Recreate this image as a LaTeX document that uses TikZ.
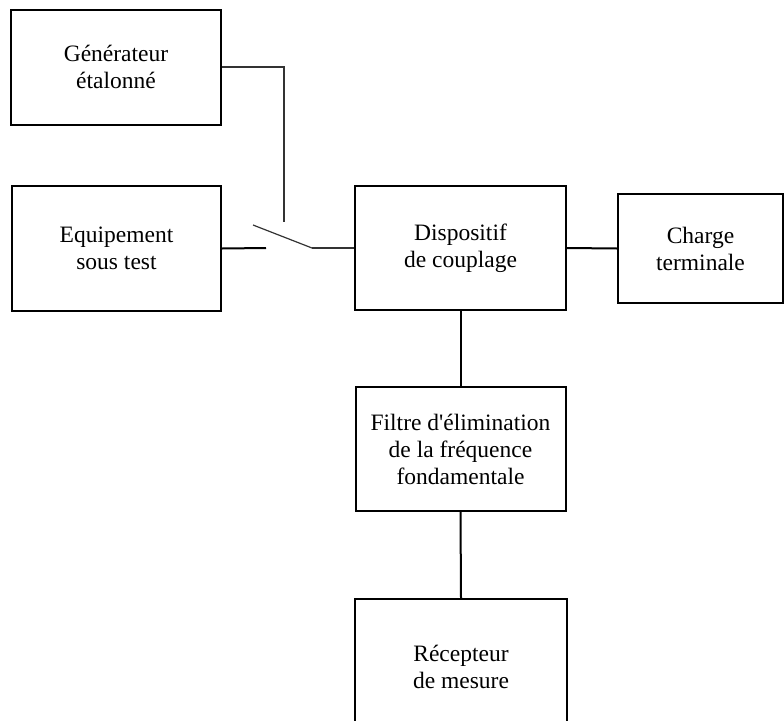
\documentclass[tikz,border=0pt]{standalone}
\usepackage{fontspec}
\setmainfont{Liberation Serif}[Ligatures=TeXOff]
\begin{document}
\begin{tikzpicture}[x=1pt,y=-1pt,
  blk/.style={draw=black,line width=2pt,inner sep=0pt,align=center,
    font=\fontsize{23.5}{27}\selectfont},
  wire/.style={line width=2pt,black},
  thin/.style={line width=1.2pt,black!80}]
\clip (0,0) rectangle (784,720);
\node[blk,minimum width=210,minimum height=115] (gen) at (116,67) {Générateur\\étalonné};
\node[blk,minimum width=209,minimum height=125] (equip) at (116.5,248.5) {Equipement\\sous test};
\node[blk,minimum width=211,minimum height=124] (disp) at (460.5,248) {Dispositif\\de couplage};
\node[blk,minimum width=165,minimum height=109] (charge) at (700.5,248.5) {Charge\\terminale};
\node[blk,minimum width=210,minimum height=124] (filt) at (460.5,449) {Filtre d'élimination\\de la fréquence\\fondamentale};
\node[blk,minimum width=212,minimum height=136] (recv) at (461,667) {Récepteur\\de mesure};
\coordinate (swtop) at (284,222);
\coordinate (swa) at (266,248);
\coordinate (bla) at (253,225);
\coordinate (blb) at (312,248);
\draw[thin] (gen.east) -| (swtop);
\draw[wire] (equip.east) -- (swa);
\draw[thin] (bla) -- (blb);
\draw[thin] (blb) -- (disp.west);
\draw[wire] (disp.east) -- (charge.west);
\draw[wire] (disp.south) -- (filt.north);
\draw[wire] (filt.south) -- (recv.north);
\end{tikzpicture}
\end{document}
